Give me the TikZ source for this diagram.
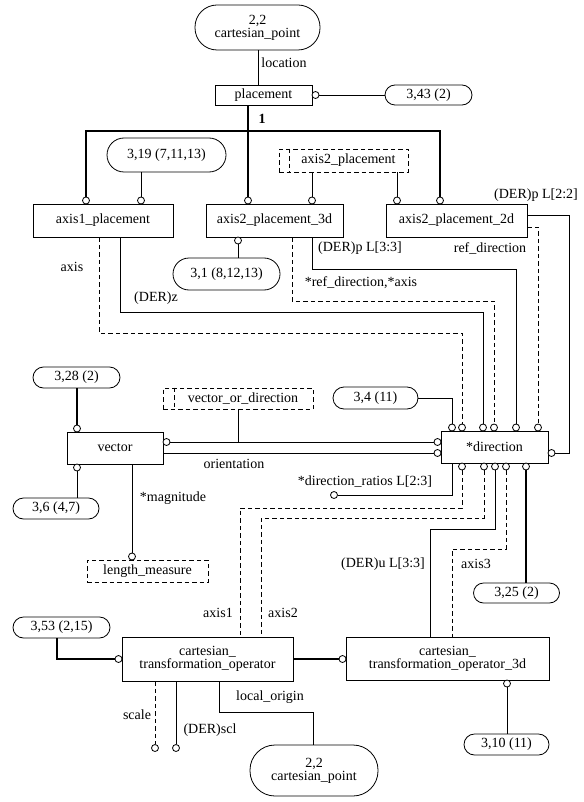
\documentclass[tikz,border=0pt]{standalone}
\usepackage{fontspec}
\setmainfont{Liberation Serif}
\begin{document}
\begin{tikzpicture}[x=1pt,y=-1pt,
  font=\fontsize{14}{13}\selectfont,
  every path/.style={line width=0.8pt},
  ent/.style={draw,line width=0.8pt,rectangle,inner sep=0pt,align=center,fill=white},
  stad/.style={draw,line width=0.8pt,rectangle,inner sep=0pt,align=center},
  dbox/.style={draw,line width=0.8pt,rectangle,inner sep=0pt,align=center,dash pattern=on 4.5pt off 3pt},
  dsh/.style={dash pattern=on 4.5pt off 3pt},
  sub/.style={line width=1.6pt},
  oc/.style={circle,draw,line width=0.8pt,fill=white,inner sep=0pt,minimum size=7pt},
  lbl/.style={inner sep=0pt}]
\useasboundingbox (0,0) rectangle (583,802);

% ---------- boxes ----------
\node[stad,minimum width=125pt,minimum height=45pt,rounded corners=22pt] (cp1) at (257.5,27.5) {2,2\\cartesian\_point};
\node[ent,minimum width=97pt,minimum height=20pt] (plc) at (263.5,95) {placement};
\node[stad,minimum width=87pt,minimum height=20pt,rounded corners=10pt] (c343) at (428.5,95) {3,43 (2)};
\node[stad,minimum width=119pt,minimum height=34pt,rounded corners=17pt] (c319) at (166.5,155) {3,19 (7,11,13)};
\node[dbox,minimum width=129pt,minimum height=23pt] (a2p) at (343.5,160.5) {\hspace*{10pt}axis2\_placement};
\node[ent,minimum width=140pt,minimum height=33pt] (a1p) at (103,220.5) {axis1\_placement};
\node[ent,minimum width=137pt,minimum height=33pt] (a3d) at (274.5,220.5) {axis2\_placement\_3d};
\node[ent,minimum width=141pt,minimum height=33pt] (a2d) at (456.5,220.5) {axis2\_placement\_2d};
\node[stad,minimum width=107pt,minimum height=32pt,rounded corners=16pt] (c31) at (226.5,274) {3,1 (8,12,13)};
\node[ent,minimum width=107pt,minimum height=32pt] (dir) at (494.5,447) {*direction};
\node[stad,minimum width=85pt,minimum height=22pt,rounded corners=11pt] (c34) at (375.5,398) {3,4 (11)};
\node[ent,minimum width=96pt,minimum height=32pt] (vec) at (115,448) {vector};
\node[stad,minimum width=87pt,minimum height=21pt,rounded corners=10.5pt] (c328) at (76.5,377.5) {3,28 (2)};
\node[stad,minimum width=86pt,minimum height=21pt,rounded corners=10.5pt] (c36) at (56,508.5) {3,6 (4,7)};
\node[dbox,minimum width=150pt,minimum height=21pt] (vod) at (238,398.5) {\hspace*{10pt}vector\_or\_direction};
\node[dbox,minimum width=121pt,minimum height=22pt] (lm) at (147.5,571) {length\_measure};
\node[ent,minimum width=171pt,minimum height=44pt] (cto) at (207.5,659) {cartesian\_\\transformation\_operator};
\node[ent,minimum width=203pt,minimum height=43pt] (cto3) at (447.5,658.5) {cartesian\_\\transformation\_operator\_3d};
\node[stad,minimum width=97pt,minimum height=21pt,rounded corners=10.5pt] (c353) at (61.5,627.5) {3,53 (2,15)};
\node[stad,minimum width=86pt,minimum height=20pt,rounded corners=10pt] (c325) at (516.5,593) {3,25 (2)};
\node[stad,minimum width=85pt,minimum height=21pt,rounded corners=10.5pt] (c310) at (506.5,744.5) {3,10 (11)};
\node[stad,minimum width=128pt,minimum height=51pt,rounded corners=25pt] (cp2) at (314,770.5) {2,2\\cartesian\_point};

% select-type inner lines
\draw[dsh] ([xshift=11pt]a2p.north west) -- ([xshift=11pt]a2p.south west);
\draw[dsh] ([xshift=12pt]vod.north west) -- ([xshift=12pt]vod.south west);

% ---------- circles ----------
\node[oc] (plcR) at (315.5,95) {};
\node[oc] (a1pT1) at (86,200.5) {};
\node[oc] (a1pT2) at (141,200.5) {};
\node[oc] (a3dT1) at (248,200.5) {};
\node[oc] (a3dT2) at (312,200.5) {};
\node[oc] (a2dT1) at (397,200.5) {};
\node[oc] (a2dT2) at (440,200.5) {};
\node[oc] (a3dB) at (238,240.5) {};
\node[oc] (dT1) at (452,427.5) {};
\node[oc] (dT2) at (462,427.5) {};
\node[oc] (dT3) at (483,427.5) {};
\node[oc] (dT4) at (494,427.5) {};
\node[oc] (dT5) at (516,427.5) {};
\node[oc] (dT6) at (538,427.5) {};
\node[oc] (dR) at (551.5,453) {};
\node[oc] (dL1) at (437.5,442) {};
\node[oc] (dL2) at (437.5,453) {};
\node[oc] (dB1) at (462,466.5) {};
\node[oc] (dB2) at (484,466.5) {};
\node[oc] (dB3) at (495,466.5) {};
\node[oc] (dB4) at (506,466.5) {};
\node[oc] (dB5) at (526,466.5) {};
\node[oc] (vT) at (77,428.5) {};
\node[oc] (vB) at (77,467.5) {};
\node[oc] (vR) at (166.5,442) {};
\node[oc] (lmT) at (132,556.5) {};
\node[oc] (dr) at (334,495) {};
\node[oc] (ctoL) at (118.5,659) {};
\node[oc] (cto3L) at (342.5,659) {};
\node[oc] (cto3B) at (507,683.5) {};
\node[oc] (sc) at (155,748) {};
\node[oc] (scl) at (176,748) {};

% ---------- connectors ----------
\draw ([xshift=0.5pt]cp1.south) -- ([xshift=-5.5pt]plc.north);
\draw (plcR.east) -- (c343.west);
\coordinate (bus) at (248,131);
\draw[sub] ([xshift=-15.5pt]plc.south) -- (bus);
\draw[sub] (a1pT1.north) |- (bus) -| (a2dT2.north);
\draw[sub] (bus) -- (a3dT1.north);
\draw (c319.south -| a1pT2) -- (a1pT2.north);
\draw (a2p.south -| a3dT2) -- (a3dT2.north);
\draw (a2p.south -| a2dT1) -- (a2dT1.north);
\draw (a3dB.south) -- (a3dB |- c31.north);
\draw ([yshift=5.5pt]a2d.east) -| (569,453) -- (dR.east);
\draw[dsh] ([yshift=-6.5pt]a2d.east) -| (dT6.north);
\draw[dsh] ([xshift=17.5pt]a3d.south) |- (494,301) -- (dT4.north);
\draw ([xshift=37.5pt]a3d.south) |- (516,269) -- (dT5.north);
\draw[dsh] ([xshift=-4pt]a1p.south) |- (462,333) -- (dT2.north);
\draw ([xshift=17pt]a1p.south) |- (483,312) -- (dT3.north);
\draw (c34.east) -| (dT1.north);
\draw (vR.east) -- (dL1.west);
\draw (vod.south) -- (vod.south |- vR);
\draw ([yshift=-5pt]vec.east) -- (dL2.west);
\draw[sub] (c328.south -| vT) -- (vT.north);
\draw (vB.south) -- (vB |- c36.north);
\draw ([xshift=17pt]vec.south) -- (lmT.north);
\draw ([xshift=-42.5pt]dir.south) |- (dr.east);
\draw[dsh] (dB1.south) |- (240,508) -- ([xshift=32.5pt]cto.north);
\draw[dsh] (dB2.south) |- (261,518) -- ([xshift=53.5pt]cto.north);
\draw (dB3.south) |- (430,529) -- ([xshift=-17.5pt]cto3.north);
\draw[dsh] (dB4.south) |- (452,549) -- ([xshift=4.5pt]cto3.north);
\draw[sub] (dB5.south) -- (dB5 |- c325.north);
\draw[sub] ([xshift=-4.5pt]c353.south) |- (ctoL.west);
\draw[sub] (cto.east) -- (cto3L.west);
\draw (cto3B.south) -- (cto3B |- c310.north);
\draw[dsh] ([xshift=-52.5pt]cto.south) -- (sc.north);
\draw ([xshift=-31.5pt]cto.south) -- (scl.north);
\draw ([xshift=11.5pt]cto.south) |- (313,712) -- ([xshift=-1pt]cp2.north);

% ---------- labels ----------
\node[lbl] (l1) at (284,63) {location};
\node[lbl] (l2) at (262,119) {\textbf{1}};
\node[lbl] (l3) at (536,195) {(DER)p L[2:2]};
\node[lbl] (l4) at (490,248) {ref\_direction};
\node[lbl] (l5) at (360,248) {(DER)p L[3:3]};
\node[lbl] (l6) at (361,283) {*ref\_direction,*axis};
\node[lbl] (l7) at (72,267) {axis};
\node[lbl] (l8) at (156,298) {(DER)z};
\node[lbl] (l9) at (234,464) {orientation};
\node[lbl] (l10) at (173,498) {*magnitude};
\node[lbl] (l11) at (365,482) {*direction\_ratios L[2:3]};
\node[lbl] (l12) at (218,613) {axis1};
\node[lbl] (l13) at (283,613) {axis2};
\node[lbl] (l14) at (383,564) {(DER)u L[3:3]};
\node[lbl] (l15) at (476,564) {axis3};
\node[lbl] (l16) at (137,715) {scale};
\node[lbl] (l17) at (210,730) {(DER)scl};
\node[lbl] (l18) at (270,697) {local\_origin};
\end{tikzpicture}
\end{document}
